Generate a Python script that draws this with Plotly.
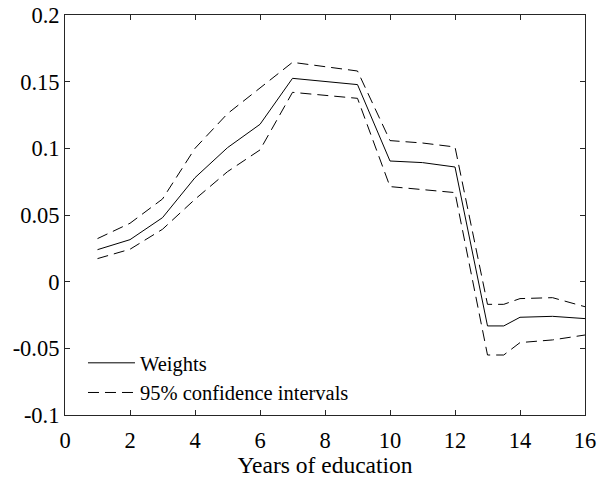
import plotly.graph_objects as go

years = [1, 2, 3, 4, 5, 6, 7, 9, 10, 11, 12, 13, 13.5, 14, 15, 16]
weights = [0.024, 0.0315, 0.048, 0.078, 0.1005, 0.118, 0.1525, 0.1478, 0.0905, 0.0893, 0.086,
           -0.0332, -0.0332, -0.0267, -0.026, -0.0277]
upper_ci = [0.0323, 0.0438, 0.062, 0.1, 0.126, 0.145, 0.1645, 0.158, 0.1058, 0.104, 0.101,
            -0.017, -0.017, -0.0127, -0.012, -0.0188]
lower_ci = [0.0173, 0.0243, 0.0393, 0.0618, 0.0825, 0.0988, 0.142, 0.1375, 0.0713, 0.0693, 0.0668,
            -0.055, -0.055, -0.0457, -0.0437, -0.040]

x_ticks = [0, 2, 4, 6, 8, 10, 12, 14, 16]
y_ticks = [-0.1, -0.05, 0, 0.05, 0.1, 0.15, 0.2]
y_tick_labels = ["-0.1", "-0.05", "0", "0.05", "0.1", "0.15", "0.2"]

FONT = "Liberation Serif"
DASH = "11px,6px"

fig = go.Figure()
fig.add_trace(go.Scatter(x=years, y=weights, mode="lines", name="Weights", legendgroup="w",
                         line=dict(color="black", width=1)))
fig.add_trace(go.Scatter(x=years, y=upper_ci, mode="lines", name="95% confidence intervals",
                         legendgroup="ci", line=dict(color="black", width=1, dash=DASH)))
fig.add_trace(go.Scatter(x=years, y=lower_ci, mode="lines", name="95% confidence intervals",
                         legendgroup="ci", showlegend=False,
                         line=dict(color="black", width=1, dash=DASH)))

axis_common = dict(showgrid=False, zeroline=False, showline=True, linecolor="#262626",
                   linewidth=1, mirror="ticks", ticks="inside", ticklen=5, tickcolor="#262626",
                   automargin=False,
                   tickfont=dict(family=FONT, size=22.5, color="black"))

fig.update_xaxes(range=[0, 16], tickvals=x_ticks, ticktext=[str(t) for t in x_ticks],
                 ticklabelstandoff=5,
                 title=dict(text="Years of education", standoff=6,
                            font=dict(family=FONT, size=23.5, color="black")),
                 **axis_common)
fig.update_yaxes(range=[-0.1, 0.2], tickvals=y_ticks, ticktext=y_tick_labels, **axis_common)

fig.update_layout(
    width=598, height=478,
    margin=dict(l=65, r=13, t=15, b=63),
    plot_bgcolor="white", paper_bgcolor="white",
    font=dict(family=FONT, color="black"),
    legend=dict(x=0.0346, y=0.18, xanchor="left", yanchor="top",
                font=dict(family=FONT, size=20.5, color="black"),
                bgcolor="rgba(0,0,0,0)", itemwidth=47, tracegroupgap=0),
)

# remove the page's default body margin so the 598x478 figure fills the window exactly
fig.write_html(
    "out.html",
    config={"displayModeBar": False},
    post_script="document.body.style.margin='0';document.documentElement.style.overflow='hidden';",
)
